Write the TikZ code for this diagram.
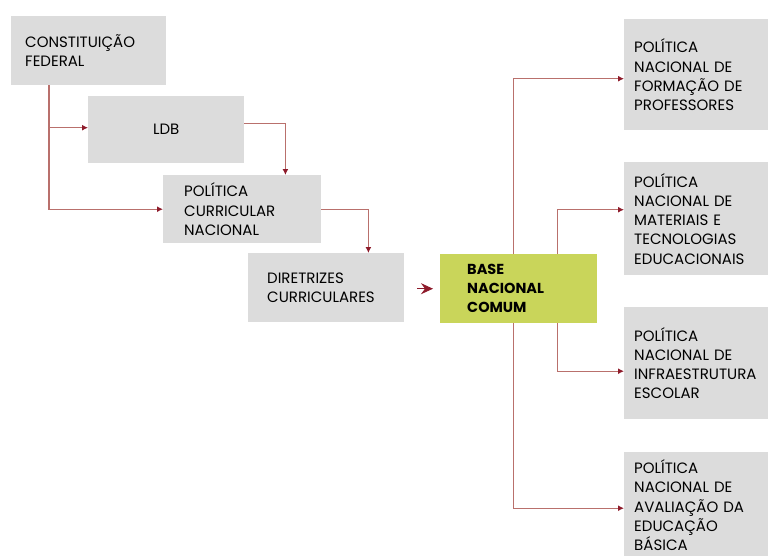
\documentclass[tikz,border=0pt]{standalone}
\usepackage{fontspec}
\setmainfont{Poppins}
\usetikzlibrary{arrows.meta}
\definecolor{boxgray}{HTML}{DCDCDC}
\definecolor{bncgreen}{HTML}{C9D55A}
\definecolor{linkred}{HTML}{B9706C}
\definecolor{tipred}{HTML}{8E1B2B}

\begin{document}
\begin{tikzpicture}[x=1pt,y=-1pt,
    font=\fontsize{15}{19.2}\selectfont,
    box/.style={fill=boxgray,anchor=north west,align=left,inner ysep=0pt},
    link/.style={draw=linkred,line width=1.4pt,-{Latex[length=6pt,width=6pt,color=tipred]}}]
            \useasboundingbox (0,0) rectangle (768,555);
            \node[box,minimum width=155pt,minimum height=69pt,text width=127pt,inner xsep=14pt] (cf) at (11,16) {CONSTITUIÇÃO\\FEDERAL};
            \node[box,minimum width=156pt,minimum height=67pt,text width=156pt,inner xsep=0pt,align=center] (ldb) at (88,96) {LDB};
            \node[box,minimum width=157pt,minimum height=68pt,text width=116pt,inner xsep=21pt] (pcn) at (163,175) {POLÍTICA\\CURRICULAR\\NACIONAL};
            \node[box,minimum width=156pt,minimum height=69pt,text width=118pt,inner xsep=19pt] (dcn) at (248,253) {DIRETRIZES\\CURRICULARES};
            \node[box,fill=bncgreen,minimum width=157pt,minimum height=69pt,text width=103pt,inner xsep=27pt,font=\fontsize{14.5}{19}\selectfont\bfseries] (bnc) at (440,254) {BASE\\NACIONAL\\COMUM};
            \node[box,minimum width=160pt,minimum height=111pt,text width=140pt,inner xsep=10pt] (pol1) at (624,19) {POLÍTICA\\NACIONAL DE\\FORMAÇÃO DE\\PROFESSORES};
            \node[box,minimum width=160pt,minimum height=113pt,text width=140pt,inner xsep=10pt] (pol2) at (624,162) {POLÍTICA\\NACIONAL DE\\MATERIAIS E\\TECNOLOGIAS\\EDUCACIONAIS};
            \node[box,minimum width=160pt,minimum height=112pt,text width=140pt,inner xsep=10pt] (pol3) at (624,307) {POLÍTICA\\NACIONAL DE\\INFRAESTRUTURA\\ESCOLAR};
            \node[box,minimum width=160pt,minimum height=106pt,text width=140pt,inner xsep=10pt] (pol4) at (624,452) {POLÍTICA\\NACIONAL DE\\AVALIAÇÃO DA\\EDUCAÇÃO\\BÁSICA};
            % ligações da esquerda
            \draw[link] ([xshift=38pt]cf.south west) |- ([yshift=2pt]ldb.west);
            \draw[link] ([xshift=38pt]cf.south west) |- (pcn.west);
            \draw[link] ([yshift=6pt]ldb.east) -| ([xshift=-36pt]pcn.north east);
            \draw[link] (pcn.east) -| ([xshift=-36pt]dcn.north east);
            \draw[draw=tipred,line width=1pt,-{Stealth[length=12pt,width=11pt,inset=4pt]},shorten <=13pt,shorten >=7pt] (dcn.east |- bnc.west) -- (bnc.west);
            % ligações da base
            \draw[link] ([xshift=-84pt]bnc.north east) |- ([yshift=-4pt]pol1.west);
            \draw[link] ([xshift=-40pt]bnc.north east) |- ([yshift=9pt]pol2.west);
            \draw[link] ([xshift=-40pt]bnc.south east) |- ([yshift=-8pt]pol3.west);
            \draw[link] ([xshift=-84pt]bnc.south east) |- ([yshift=-3pt]pol4.west);
        \end{tikzpicture}
\end{document}
